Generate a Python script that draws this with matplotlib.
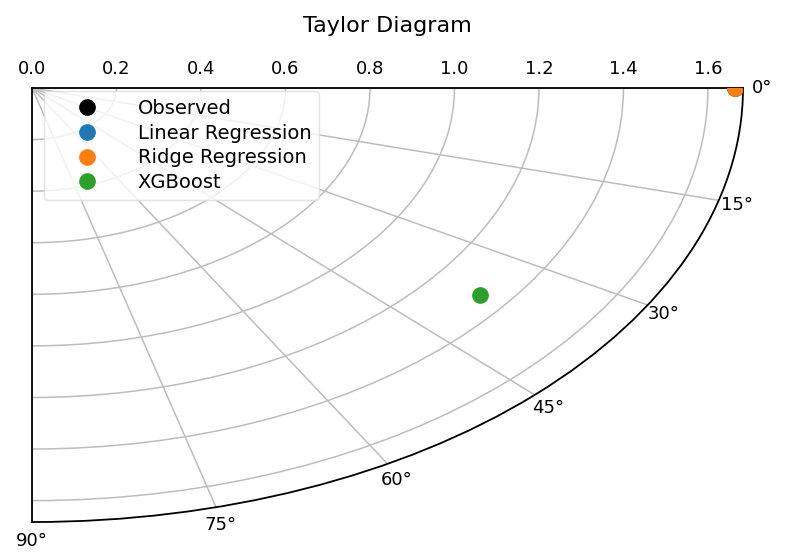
import numpy as np
import matplotlib
matplotlib.use("Agg")
import matplotlib.pyplot as plt

models = ["Observed", "Linear Regression", "Ridge Regression", "XGBoost"]
std_devs = [1.664, 1.664, 1.664, 1.330]
correlations = [1.0, 1.0, 1.0, 0.797]
colors = ["black", "#1f77b4", "#ff7f0e", "#2ca02c"]
r_max = 1.683

fig = plt.figure(figsize=(7.89, 5.52), dpi=100)
ax = fig.add_axes([0.0406, 0.0543, 0.9011, 0.7863], projection="polar")
ax.set_aspect("auto")
ax.set_theta_zero_location("E")
ax.set_theta_direction(-1)
ax.set_thetamin(0)
ax.set_thetamax(90)
ax.set_rlim(0, r_max)

for name, s, c, col in zip(models, std_devs, correlations, colors):
    ax.plot(np.arccos(c), s, "o", color=col, markersize=11, label=name,
            zorder=5)

ax.set_rticks([0.0, 0.2, 0.4, 0.6, 0.8, 1.0, 1.2, 1.4, 1.6])
ax.set_thetagrids(np.arange(0, 91, 15), [f"{a}°" for a in range(0, 91, 15)])
ax.tick_params(labelsize=13)
ax.tick_params(axis="x", pad=3)
ax.grid(True, color="#bdbdbd", linewidth=1.1)
for sp in ax.spines.values():
    sp.set_linewidth(1.3)
ax.set_title("Taylor Diagram", fontsize=16, pad=40)
leg = ax.legend(loc="upper left", bbox_to_anchor=(0.013, 1.0),
                fontsize=14, handlelength=3.6, handletextpad=0.8,
                labelspacing=0.3, borderaxespad=0.15)
leg.get_frame().set_edgecolor("#dddddd")

fig.savefig("out.png", dpi=100)
